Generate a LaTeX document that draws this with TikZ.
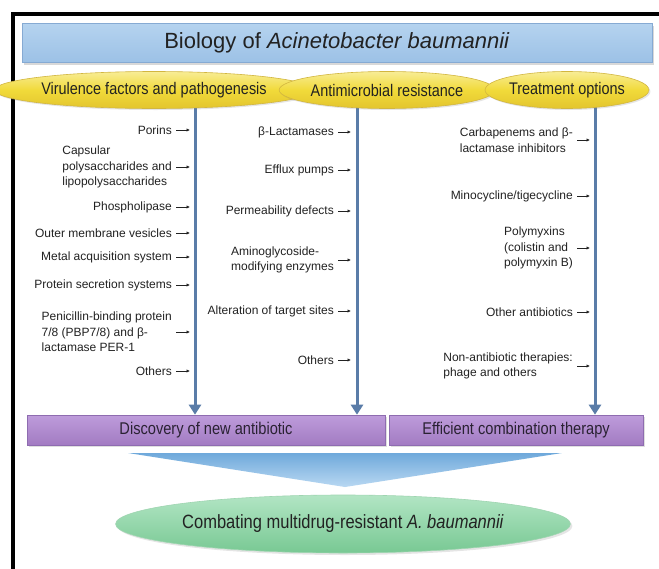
\documentclass[tikz,border=0pt]{standalone}
\usepackage{fontspec}
\setmainfont{Liberation Sans}
\newfontfamily\narrowsf{Liberation Sans}[FakeStretch=0.86]
\usepackage{xcolor}
\usetikzlibrary{shapes.geometric,shadows,arrows.meta,positioning}

\definecolor{textgray}{HTML}{222222}
\definecolor{bartop}{HTML}{B5D3EF}
\definecolor{barbot}{HTML}{9CC1E6}
\definecolor{baredge}{HTML}{86AAD3}
\definecolor{cattop}{HTML}{F8EC95}
\definecolor{catmid}{HTML}{F1DA3A}
\definecolor{catbot}{HTML}{E3C52E}
\definecolor{catedge}{HTML}{D2B640}
\definecolor{flowblue}{HTML}{5A7CA8}
\definecolor{boxtop}{HTML}{BE9CDB}
\definecolor{boxbot}{HTML}{A27BC2}
\definecolor{boxedge}{HTML}{8E6CB0}
\definecolor{boxtext}{HTML}{2A2233}
\definecolor{chevtop}{HTML}{6FA9DB}
\definecolor{chevbot}{HTML}{B9D8F2}
\definecolor{goaltop}{HTML}{B2E5C4}
\definecolor{goalbot}{HTML}{78C893}
\definecolor{goaledge}{HTML}{9FD5B1}

\begin{document}
\begin{tikzpicture}[x=1pt,y=-1pt,
    item/.style={font=\fontsize{12}{15.5}\selectfont, text=textgray, inner sep=0pt, align=left, anchor=east},
    tick/.style={-{Latex[length=3.5pt,width=3.5pt]}, line width=0.8pt, draw=textgray, shorten <=4pt},
    flow/.style={-{Triangle[length=10pt,width=12pt]}, line width=3pt, draw=flowblue},
    cat/.style={ellipse, draw=catedge, line width=0.6pt, top color=cattop, bottom color=catbot, middle color=catmid,
        minimum height=37pt, inner sep=0pt, text=textgray, font=\narrowsf\fontsize{16.8}{18}\selectfont,
        drop shadow={opacity=0.2, shadow xshift=1.5pt, shadow yshift=-1.5pt}},
    goalbox/.style={rectangle, draw=boxedge, line width=0.6pt, top color=boxtop, bottom color=boxbot,
        minimum height=30pt, inner sep=0pt, text=boxtext, font=\narrowsf\fontsize{17}{19}\selectfont,
        drop shadow={opacity=0.25, shadow xshift=2pt, shadow yshift=-2pt}}]

    \fill[white] (0,0) rectangle (659,568);
    \useasboundingbox (0,0) rectangle (659,568);

    % frame
    \draw[line width=4pt, line join=miter] (13,570) -- (13,14) -- (661,14);

    % title
    \node[rectangle, draw=baredge, line width=0.6pt, top color=bartop, bottom color=barbot,
        minimum width=630pt, minimum height=39pt, inner sep=0pt, text=textgray,
        font=\fontsize{22}{24}\selectfont,
        drop shadow={opacity=0.3, shadow xshift=2pt, shadow yshift=-2pt}]
        (title) at (337,43) {Biology of \textit{Acinetobacter baumannii}};

    % columns
    \coordinate (v1) at (195,104);
    \coordinate (v2) at (357,104);
    \coordinate (v3) at (595,104);
    \coordinate (lstop) at (190,0);
    \coordinate (mstop) at (351,0);
    \coordinate (rstop) at (590,0);

    \node[goalbox, minimum width=358pt] (discovery) at (206,430) {Discovery of new antibiotic};
    \node[goalbox, minimum width=254pt] (combo) at (516,430) {Efficient combination therapy};

    \draw[flow] (v1) -- (v1 |- discovery.north);
    \draw[flow] (v2) -- (v2 |- discovery.north);
    \draw[flow] (v3) -- (v3 |- combo.north);

    \node[cat, minimum width=268pt] (virulence) at (154,90) {Virulence factors and pathogenesis};
    \node[cat, minimum width=205pt] (resistance) at (387,90) {Antimicrobial resistance};
    \node[cat, minimum width=158pt] (treatment) at (567,90) {Treatment options};

    % virulence factors
    \node[item] (porins) at (172,130) {Porins};
    \node[item] (capsular) at (172,167) {Capsular\\polysaccharides and\\lipopolysaccharides};
    \node[item] (phospho) at (172,207) {Phospholipase};
    \node[item] (vesicles) at (172,233) {Outer membrane vesicles};
    \node[item] (metal) at (172,257) {Metal acquisition system};
    \node[item] (secretion) at (172,285) {Protein secretion systems};
    \node[item] (pbp) at (172,332) {Penicillin-binding protein\\7/8 (PBP7/8) and β-\\lactamase PER-1};
    \node[item] (othersv) at (172,371) {Others};

    % resistance
    \node[item] (lactamases) at (334,132) {β-Lactamases};
    \node[item] (efflux) at (334,170) {Efflux pumps};
    \node[item] (permeab) at (334,211) {Permeability defects};
    \node[item] (aminogly) at (334,260) {Aminoglycoside-\\modifying enzymes};
    \node[item] (targets) at (334,311) {Alteration of target sites};
    \node[item] (othersr) at (334,360) {Others};

    % treatment
    \node[item] (carbapen) at (573,140) {Carbapenems and β-\\lactamase inhibitors};
    \node[item] (minocyc) at (573,196) {Minocycline/tigecycline};
    \node[item] (polymyx) at (573,248) {Polymyxins\\(colistin and\\polymyxin B)};
    \node[item] (otherab) at (573,312) {Other antibiotics};
    \node[item] (nonab) at (573,366) {Non-antibiotic therapies:\\phage and others};

    \foreach \n in {porins,capsular,phospho,vesicles,metal,secretion,pbp,othersv}
        \draw[tick] (\n.east) -- (\n.east -| lstop);
    \foreach \n in {lactamases,efflux,permeab,aminogly,targets,othersr}
        \draw[tick] (\n.east) -- (\n.east -| mstop);
    \foreach \n in {carbapen,minocyc,polymyx,otherab,nonab}
        \draw[tick] (\n.east) -- (\n.east -| rstop);

    % funnel
    \coordinate (funL) at (128,453);
    \coordinate (funR) at (562,453);
    \coordinate (funTip) at (345,487);
    \shade[top color=chevtop, bottom color=chevbot] (funL) -- (funR) -- (funTip) -- cycle;

    \node[ellipse, draw=goaledge, line width=0.6pt, top color=goaltop, bottom color=goalbot,
        minimum width=367pt, minimum height=58pt, inner sep=0pt, text=textgray,
        font=\narrowsf\fontsize{19.2}{21}\selectfont,
        drop shadow={opacity=0.2, shadow xshift=2pt, shadow yshift=-2pt}]
        (goal) at (343,524) {Combating multidrug-resistant \textit{A. baumannii}};
\end{tikzpicture}
\end{document}
